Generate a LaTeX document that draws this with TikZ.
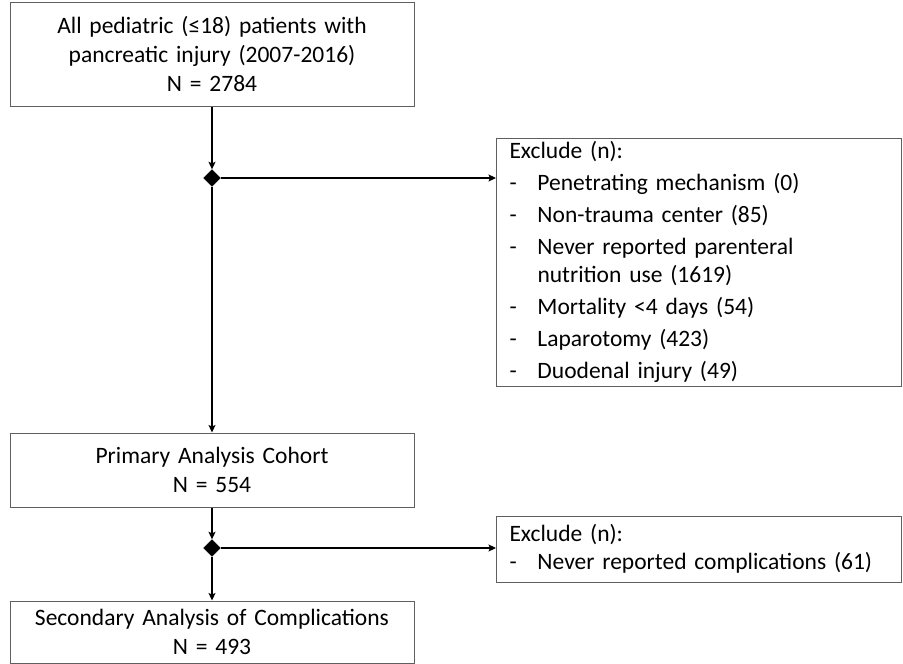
\documentclass[tikz,border=0pt]{standalone}
\usepackage{fontspec}
\setmainfont{Carlito}
\usepackage{array}
\usetikzlibrary{positioning,arrows.meta,shapes.geometric}
\definecolor{boxline}{RGB}{95,95,95}
\tikzset{
  mainbox/.style={draw=boxline,line width=1pt,inner xsep=0pt,inner ysep=0pt,
                  text width=404pt,align=center,font=\fontsize{23.5}{29}\selectfont},
  exclbox/.style={draw=boxline,line width=1pt,inner xsep=13pt,inner ysep=0pt,
                  anchor=north west,text width=379pt,align=left,
                  font=\fontsize{23.5}{28}\selectfont},
  split/.style={diamond,fill=black,draw=black,inner sep=0pt,minimum size=17pt},
  arr/.style={-{Stealth[length=7.5pt,width=7pt,inset=1.5pt]},line width=1.1pt},
}

\begin{document}
\begin{tikzpicture}[x=1pt,y=-1pt]
\useasboundingbox (0,0) rectangle (903,664);
\node[mainbox,minimum height=104pt] (allpts) at (212,54)
  {All pediatric (≤18) patients with\\pancreatic injury (2007-2016)\\N = 2784};
\node[split] (split1) at (212,178) {};
\node[exclbox,minimum height=245pt] (excl1) at (496,138) {%
  \begin{tabular}{@{}p{28pt}@{}l@{}}
  \multicolumn{2}{@{}l@{}}{Exclude (n):}\\[4pt]
  - & Penetrating mechanism (0)\\[4pt]
  - & Non-trauma center (85)\\[4pt]
  - & Never reported parenteral\\
    & nutrition use (1619)\\[4pt]
  - & Mortality <4 days (54)\\[4pt]
  - & Laparotomy (423)\\[4pt]
  - & Duodenal injury (49)
  \end{tabular}};
\node[mainbox,minimum height=74pt] (primary) at (212,470)
  {Primary Analysis Cohort\\N = 554};
\node[split] (split2) at (212,548) {};
\node[exclbox,minimum height=66pt] (excl2) at (496,516) {%
  \begin{tabular}{@{}p{28pt}@{}l@{}}
  \multicolumn{2}{@{}l@{}}{Exclude (n):}\\
  - & Never reported complications (61)
  \end{tabular}};
\node[mainbox,minimum height=62pt] (secondary) at (212,632)
  {Secondary Analysis of Complications\\N = 493};
\draw[arr] (allpts) -- (split1);
\draw[arr] (split1) -- (split1 -| excl1.west);
\draw[arr] (split1) -- (primary);
\draw[arr] (primary) -- (split2);
\draw[arr] (split2) -- (split2 -| excl2.west);
\draw[arr] (split2) -- (secondary);
\end{tikzpicture}
\end{document}
